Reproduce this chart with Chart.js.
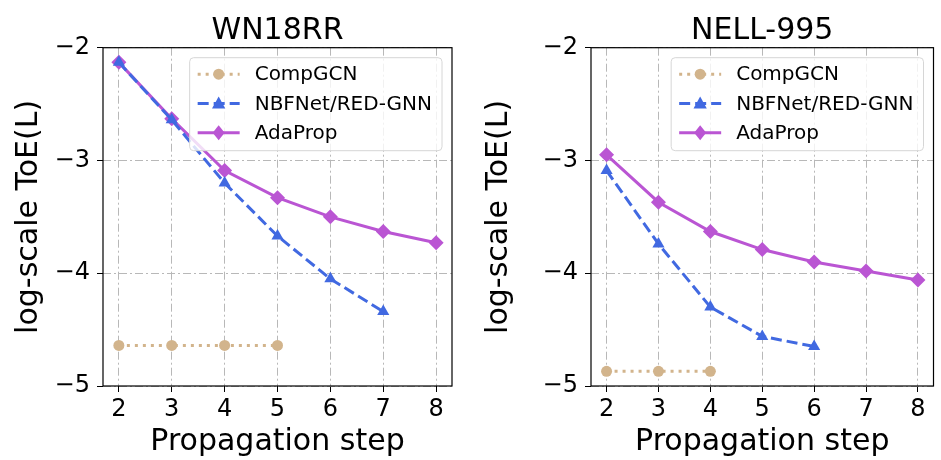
<!DOCTYPE html>
<html>
<head>
<meta charset="utf-8">
<script src="https://cdn.jsdelivr.net/npm/chart.js@4.4.1/dist/chart.umd.min.js"></script>
<style>
  html, body { margin: 0; padding: 0; background: #fff; }
  #wrap { display: flex; width: 941px; height: 460px; }
  .box { position: relative; height: 460px; }
</style>
</head>
<body>
<div id="wrap">
  <div class="box" style="width:470px"><canvas id="left"></canvas></div>
  <div class="box" style="width:471px"><canvas id="right"></canvas></div>
</div>
<script>
const steps = [2, 3, 4, 5, 6, 7, 8];
const yTicks = [-5, -4, -3, -2];

// WN18RR
const wnCompGCN = [-4.64, -4.64, -4.64, -4.64];
const wnNBFNet = [-2.13, -2.64, -3.20, -3.67, -4.05, -4.34];
const wnAdaProp = [-2.13, -2.63, -3.09, -3.33, -3.50, -3.63, -3.73];

// NELL-995
const nellCompGCN = [-4.87, -4.87, -4.87];
const nellNBFNet = [-3.09, -3.74, -4.30, -4.56, -4.65];
const nellAdaProp = [-2.95, -3.37, -3.63, -3.79, -3.90, -3.98, -4.06];

const FONT = 'DejaVu Sans';
const fmt = v => String(v).replace('-', '\u2212');

// box around the plot and legend inside it
const framePlugin = {
  id: 'frame',
  afterDatasetsDraw(chart) {
    const { ctx, chartArea: a } = chart;
    ctx.save();
    ctx.strokeStyle = '#000';
    ctx.lineWidth = 1.2;
    ctx.strokeRect(a.left, a.top, a.right - a.left, a.bottom - a.top);

    // legend
    ctx.font = '20px ' + FONT;
    const sets = chart.data.datasets;
    const textW = Math.max(...sets.map(d => ctx.measureText(d.label).width));
    const w = 65 + textW + 10, h = 93;
    const x0 = a.right - 10 - w, y0 = a.top + 10;
    ctx.fillStyle = 'rgba(255,255,255,0.8)';
    ctx.strokeStyle = '#d6d6d6';
    ctx.lineWidth = 1;
    ctx.beginPath();
    ctx.roundRect(x0, y0, w, h, 4);
    ctx.fill();
    ctx.stroke();
    sets.forEach((d, i) => {
      const cy = y0 + 16.5 + i * 29.3;
      ctx.strokeStyle = d.borderColor;
      ctx.lineWidth = d.borderWidth;
      ctx.setLineDash(d.borderDash || []);
      ctx.beginPath();
      ctx.moveTo(x0 + 8, cy);
      ctx.lineTo(x0 + 50, cy);
      ctx.stroke();
      ctx.setLineDash([]);
      ctx.fillStyle = d.backgroundColor;
      ctx.beginPath();
      const r = d.pointRadius, cx = x0 + 29;
      if (d.pointStyle === 'circle') {
        ctx.arc(cx, cy, r, 0, Math.PI * 2);
      } else if (d.pointStyle === 'triangle') {
        ctx.moveTo(cx, cy - r);
        ctx.lineTo(cx + r * 0.95, cy + r * 0.7);
        ctx.lineTo(cx - r * 0.95, cy + r * 0.7);
      } else {
        ctx.moveTo(cx, cy - r);
        ctx.lineTo(cx + r * 0.8, cy);
        ctx.lineTo(cx, cy + r);
        ctx.lineTo(cx - r * 0.8, cy);
      }
      ctx.closePath();
      ctx.fill();
      ctx.fillStyle = '#000';
      ctx.textBaseline = 'middle';
      ctx.fillText(d.label, x0 + 65, cy + 1);
    });
    ctx.restore();
  }
};

function series(label, ys, color, dash, style, radius) {
  return {
    label: label,
    data: ys.map((y, i) => ({ x: steps[i], y: y })),
    borderColor: color,
    backgroundColor: color,
    borderWidth: 3,
    borderDash: dash,
    borderCapStyle: 'butt',
    pointStyle: style,
    pointRadius: radius,
    pointHoverRadius: radius,
    pointBorderWidth: 0,
    tension: 0,
    clip: false
  };
}

const gridOpts = {
  color: '#b8b8b8',
  lineWidth: 1,
  tickColor: '#000',
  tickBorderDash: [],
  tickLength: 6,
  tickWidth: 1
};

function makeChart(id, title, comp, nbf, ada, yWidth, padRight) {
  new Chart(document.getElementById(id), {
    type: 'line',
    data: {
      datasets: [
        series('CompGCN', comp, '#d2b48c', [3, 5], 'circle', 5.5),
        series('NBFNet/RED-GNN', nbf, '#4169e1', [11, 5], 'triangle', 7),
        series('AdaProp', ada, '#ba55d3', [], 'rectRot', 7.5)
      ]
    },
    options: {
      responsive: true,
      maintainAspectRatio: false,
      animation: false,
      events: [],
      layout: { padding: { left: 0, right: padRight, top: 0, bottom: 0 } },
      plugins: {
        legend: { display: false },
        tooltip: { enabled: false },
        title: {
          display: true,
          text: title,
          fullSize: false,
          color: '#000',
          font: { family: FONT, size: 30, weight: 'normal' },
          padding: { top: 13, bottom: -1.3 }
        }
      },
      scales: {
        x: {
          type: 'linear',
          min: 1.7,
          max: 8.3,
          afterBuildTicks: s => { s.ticks = steps.map(v => ({ value: v })); },
          afterFit: s => { s.height = 74; },
          border: { display: false, dash: [8, 3, 2, 3] },
          grid: gridOpts,
          ticks: {
            color: '#000',
            font: { family: FONT, size: 24 },
            padding: 3,
            maxRotation: 0,
            callback: v => fmt(v)
          },
          title: {
            display: true,
            text: 'Propagation step',
            color: '#000',
            font: { family: FONT, size: 30 },
            padding: { top: 0, bottom: 0 }
          }
        },
        y: {
          min: -5,
          max: -2,
          afterBuildTicks: s => { s.ticks = yTicks.map(v => ({ value: v })); },
          afterFit: s => { s.width = yWidth; },
          border: { display: false, dash: [8, 3, 2, 3] },
          grid: gridOpts,
          ticks: {
            color: '#000',
            font: { family: FONT, size: 24 },
            padding: 7,
            callback: v => fmt(v)
          },
          title: {
            display: true,
            text: 'log-scale ToE(L)',
            color: '#000',
            font: { family: FONT, size: 30 },
            padding: { top: 11, bottom: 0 }
          }
        }
      }
    },
    plugins: [framePlugin]
  });
}

makeChart('left', 'WN18RR', wnCompGCN, wnNBFNet, wnAdaProp, 103, 18);
makeChart('right', 'NELL-995', nellCompGCN, nellNBFNet, nellAdaProp, 121, 1);
</script>
</body>
</html>
